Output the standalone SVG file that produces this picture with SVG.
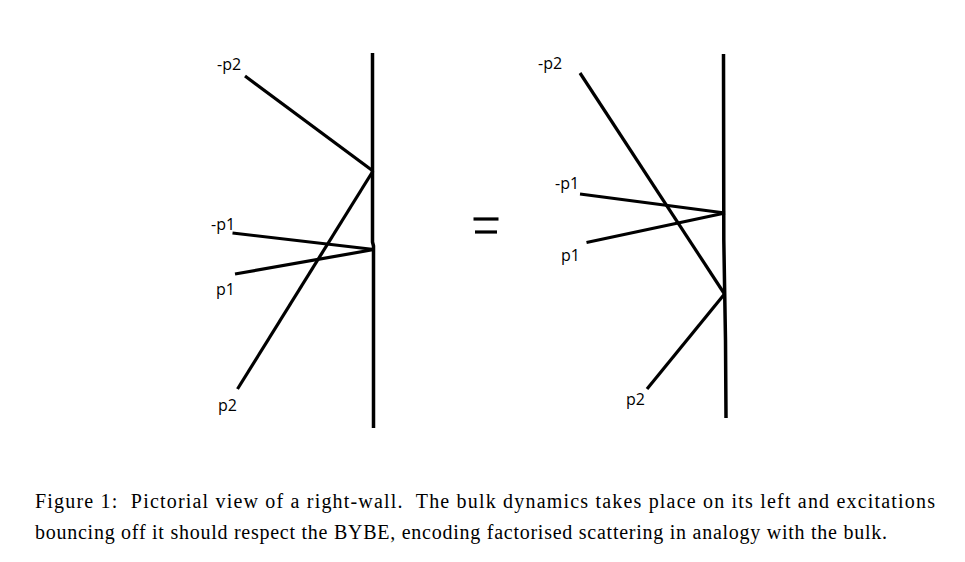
<svg xmlns="http://www.w3.org/2000/svg" width="965" height="562" viewBox="0 0 965 562">
<style>
.wall{stroke:#000;stroke-width:3.5;fill:none;stroke-linecap:butt;stroke-linejoin:round}
.ray{stroke:#000;stroke-width:3.2;fill:none;stroke-linecap:butt}
.lbl{font-family:"Open Sans","Noto Sans","Liberation Sans",sans-serif;font-size:16px;fill:#000}
.cap{font-family:"Liberation Serif",serif;font-size:20px;fill:#000;white-space:pre}
</style>
<rect width="965" height="562" fill="#fff"/>
<g id="left-wall"><polyline class="wall" points="372.5,53 372.5,242 373.5,246 373.5,428"/></g>
<g id="right-wall"><polyline class="wall" points="723.5,54 723.8,240 725.5,340 726,418"/></g>
<g id="connectors">
<line class="ray" x1="245" y1="76" x2="373" y2="171"/>
<line class="ray" x1="237.5" y1="389" x2="373" y2="171"/>
<line class="ray" x1="232.5" y1="233" x2="374" y2="249.5"/>
<line class="ray" x1="235" y1="274" x2="374" y2="249.5"/>
<line class="ray" x1="580" y1="73" x2="724.5" y2="294"/>
<line class="ray" x1="647" y1="389" x2="724.5" y2="294"/>
<line class="ray" x1="580" y1="194" x2="725" y2="213"/>
<line class="ray" x1="586.5" y1="242.5" x2="725" y2="213"/>
</g>
<g id="labels-left">
<text class="lbl" x="217" y="70">-p2</text>
<text class="lbl" x="211" y="230">-p1</text>
<text class="lbl" x="216" y="295">p1</text>
<text class="lbl" x="218" y="411">p2</text>
</g>
<g id="labels-right">
<text class="lbl" x="538" y="69">-p2</text>
<text class="lbl" x="555" y="189">-p1</text>
<text class="lbl" x="561" y="260.5">p1</text>
<text class="lbl" x="626" y="405">p2</text>
</g>
<g id="equals">
<line class="ray" x1="473.5" y1="219" x2="498.5" y2="219"/>
<line class="ray" x1="475" y1="232" x2="497" y2="232"/>
</g>
<g id="caption">
<text class="cap" x="35" y="508" textLength="900" lengthAdjust="spacing" xml:space="preserve">Figure 1:  Pictorial view of a right-wall.  The bulk dynamics takes place on its left and excitations</text>
<text class="cap" x="35" y="539" textLength="852" lengthAdjust="spacing">bouncing off it should respect the BYBE, encoding factorised scattering in analogy with the bulk.</text>
</g>
</svg>
